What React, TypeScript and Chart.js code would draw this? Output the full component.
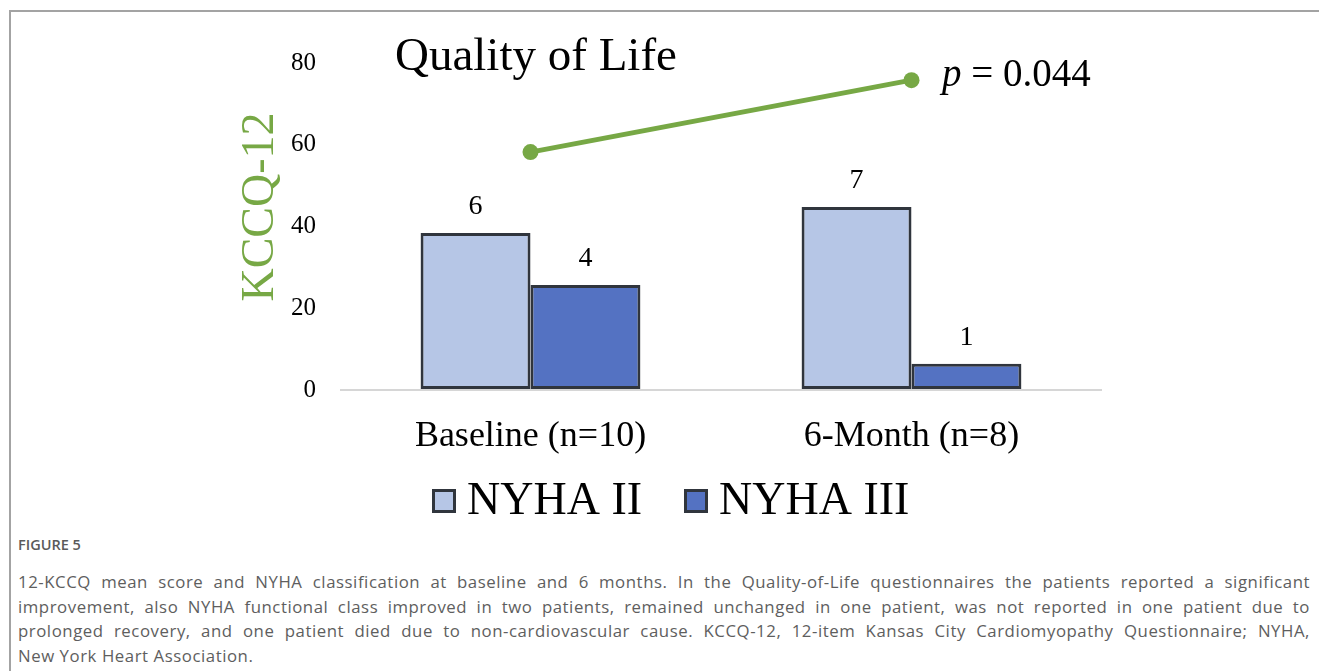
import React, { useEffect, useRef } from 'react';
import { Chart, registerables } from 'chart.js';

Chart.register(...registerables);

// ---- data ----
const categories = ['Baseline (n=10)', '6-Month (n=8)'];
const seriesNames = ['NYHA II', 'NYHA III'];
const nyha2Scores = [38.4, 44.8];
const nyha3Scores = [25.7, 6.4];
const nyha2Counts = [6, 7];
const nyha3Counts = [4, 1];
const kccqScores = [58.2, 75.8];
const yMin = 0;
const yMax = 80;
const yStep = 20;
const chartTitle = 'Quality of Life';
const yAxisTitle = 'KCCQ-12';
const pValueText = '0.044';
const figureLabel = 'FIGURE 5';
const captionLines = [
  '12-KCCQ mean score and NYHA classification at baseline and 6 months. In the Quality-of-Life questionnaires the patients reported a significant',
  'improvement, also NYHA functional class improved in two patients, remained unchanged in one patient, was not reported in one patient due to',
  'prolonged recovery, and one patient died due to non-cardiovascular cause. KCCQ-12, 12-item Kansas City Cardiomyopathy Questionnaire; NYHA,',
  'New York Heart Association.',
];

const SERIF = '"Liberation Serif", "Times New Roman", serif';
const LIGHT = '#b6c6e6';
const DARK = '#5472c2';
const EDGE = '#30353d';
const GREEN = '#77a845';

const overlayPlugin = {
  id: 'overlay',
  afterDatasetsDraw(chart: any) {
    const ctx = chart.ctx;
    const counts = [nyha2Counts, nyha3Counts];
    ctx.save();
    ctx.fillStyle = '#000';
    ctx.font = `28px ${SERIF}`;
    ctx.textAlign = 'center';
    ctx.textBaseline = 'alphabetic';
    [0, 1].forEach((di) => {
      const meta = chart.getDatasetMeta(di);
      meta.data.forEach((el: any, i: number) => {
        ctx.fillText(String(counts[di][i]), el.x, el.y - 19);
      });
    });
    ctx.restore();
  },
  afterDraw(chart: any) {
    const ctx = chart.ctx;
    ctx.save();
    // title
    ctx.fillStyle = '#000';
    ctx.font = `47px ${SERIF}`;
    ctx.textAlign = 'left';
    ctx.textBaseline = 'alphabetic';
    ctx.fillText(chartTitle, 395, 70);

    // p value
    ctx.font = `italic 39px ${SERIF}`;
    ctx.fillText('p', 942, 86);
    const pw = ctx.measureText('p').width;
    ctx.font = `39px ${SERIF}`;
    ctx.fillText(' = ' + pValueText, 942 + pw, 86);

    // y axis title
    ctx.save();
    ctx.translate(273, 207);
    ctx.rotate(-Math.PI / 2);
    ctx.fillStyle = GREEN;
    ctx.font = `46px ${SERIF}`;
    ctx.textAlign = 'center';
    ctx.textBaseline = 'alphabetic';
    ctx.fillText(yAxisTitle, 0, 0);
    ctx.restore();

    // legend
    const colors = [LIGHT, DARK];
    const boxX = [432, 684];
    ctx.font = `46px ${SERIF}`;
    ctx.textBaseline = 'middle';
    ctx.textAlign = 'left';
    seriesNames.forEach((name, i) => {
      const x = boxX[i];
      const y = 489;
      ctx.fillStyle = colors[i];
      ctx.fillRect(x, y, 24, 24);
      ctx.strokeStyle = EDGE;
      ctx.lineWidth = 3;
      ctx.strokeRect(x + 1.5, y + 1.5, 21, 21);
      ctx.fillStyle = '#000';
      ctx.fillText(name, x + 35, 502);
    });
    ctx.restore();
  },
};

export default function App() {
  const canvasRef = useRef<HTMLCanvasElement | null>(null);

  useEffect(() => {
    if (!canvasRef.current) return;
    const chart = new Chart(canvasRef.current, {
      type: 'bar',
      data: {
        labels: categories,
        datasets: [
          {
            label: seriesNames[0],
            data: nyha2Scores,
            backgroundColor: LIGHT,
            borderColor: EDGE,
            borderWidth: 3,
            borderSkipped: false,
            categoryPercentage: 0.577,
            barPercentage: 1,
            order: 1,
          },
          {
            label: seriesNames[1],
            data: nyha3Scores,
            backgroundColor: DARK,
            borderColor: EDGE,
            borderWidth: 3,
            borderSkipped: false,
            categoryPercentage: 0.577,
            barPercentage: 1,
            order: 1,
          },
          {
            type: 'line',
            label: yAxisTitle,
            data: kccqScores,
            borderColor: GREEN,
            backgroundColor: GREEN,
            borderWidth: 5,
            pointRadius: 8,
            pointBackgroundColor: GREEN,
            pointBorderWidth: 0,
            order: 0,
          } as any,
        ],
      },
      options: {
        responsive: false,
        animation: false,
        devicePixelRatio: 1,
        layout: { padding: { top: 63, right: 217, left: 0, bottom: 0 } },
        plugins: {
          legend: { display: false },
          title: { display: false },
          tooltip: { enabled: false },
        },
        scales: {
          x: {
            grid: { display: false },
            border: { display: false },
            ticks: {
              color: '#000',
              font: { family: SERIF, size: 36 },
              padding: 17,
            },
            afterFit: (s: any) => {
              s.height = 140;
            },
          },
          y: {
            min: yMin,
            max: yMax,
            border: { display: false },
            grid: {
              drawTicks: false,
              lineWidth: 2,
              color: (c: any) => (c.tick && c.tick.value === 0 ? '#d6d6d6' : 'rgba(0,0,0,0)'),
            },
            ticks: {
              stepSize: yStep,
              color: '#000',
              font: { family: SERIF, size: 25 },
              padding: 24,
            },
            afterFit: (s: any) => {
              s.width = 340;
            },
          },
        },
      },
      plugins: [overlayPlugin],
    });
    return () => chart.destroy();
  }, []);

  return (
    <div style={{ position: 'fixed', left: 0, top: 0, width: 1319, height: 671, background: '#fff', overflow: 'hidden' }}>
      <div
        style={{
          position: 'absolute',
          left: 9,
          top: 10,
          right: -2,
          bottom: -2,
          borderTop: '2px solid #a3a3a3',
          borderLeft: '2px solid #a3a3a3',
        }}
      />
      <canvas ref={canvasRef} width={1319} height={530} style={{ position: 'absolute', left: 0, top: 0 }} />
      <div
        style={{
          position: 'absolute',
          left: 18,
          top: 535,
          width: 1292,
          fontFamily: '"Open Sans", Lato, sans-serif',
          color: '#5e5e5e',
        }}
      >
        <div style={{ fontSize: 14.5, fontWeight: 600, lineHeight: '20px', color: '#5a5a5a' }}>{figureLabel}</div>
        <div style={{ fontSize: 16.8, lineHeight: '24.6px', marginTop: 15, letterSpacing: '0.55px' }}>
          {captionLines.map((line, i) => (
            <div
              key={i}
              style={{
                textAlign: 'justify',
                textAlignLast: i < captionLines.length - 1 ? 'justify' : 'left',
                whiteSpace: 'nowrap',
              }}
            >
              {line}
            </div>
          ))}
        </div>
      </div>
    </div>
  );
}
